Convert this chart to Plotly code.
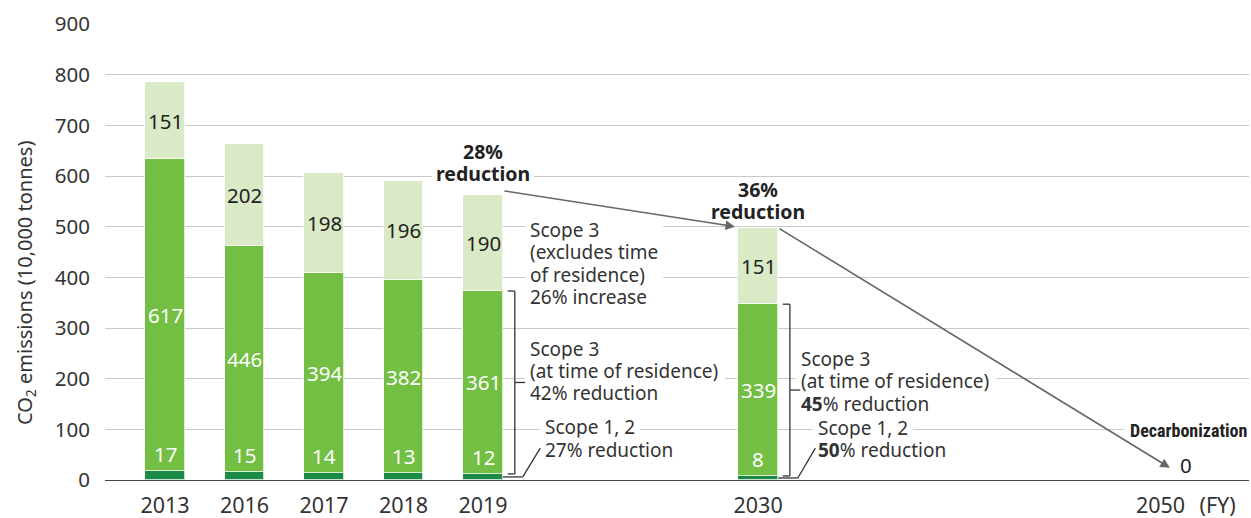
import plotly.graph_objects as go

# ---- data ----
years = ["2013", "2016", "2017", "2018", "2019", "2030", "2050"]
tick_labels = ["2013", "2016", "2017", "2018", "2019", "2030", "2050\u2002\u2009(FY)"]
scope12 = [17, 15, 14, 13, 12, 8, 0]
scope3_residence = [617, 446, 394, 382, 361, 339, 0]
scope3_other = [151, 202, 198, 196, 190, 151, 0]

# layout positions of categories on a numeric axis (gaps for future years)
xpos = [0, 1, 2, 3, 4, 7.46, 12.84]

FONT = "Noto Sans, Open Sans, DejaVu Sans, sans-serif"
TXT = "#333333"
DARK = "#1b8a47"
MID = "#72bf44"
LIGHT = "#dbeac6"
BW = 0.5
LS = 22.4  # line spacing px for text blocks

nb = 6  # bars drawn (2050 is zero)
fig = go.Figure()
for vals, col, name in [(scope12, DARK, "Scope 1, 2"),
                        (scope3_residence, MID, "Scope 3 (at time of residence)"),
                        (scope3_other, LIGHT, "Scope 3 (excludes time of residence)")]:
    fig.add_trace(go.Bar(x=xpos[:nb], y=vals[:nb], width=BW,
                         marker=dict(color=col, line=dict(color="rgba(255,255,255,0.75)", width=1)),
                         name=name, showlegend=False, hoverinfo="skip"))

seg_ann, txt_ann, arrow_ann = [], [], []
shapes = []
# segment labels
for i in range(nb):
    d, m, l = scope12[i], scope3_residence[i], scope3_other[i]
    seg_ann.append(dict(x=xpos[i], y=d + m + l / 2, text=str(l), showarrow=False,
                        font=dict(size=20.5, color="#222222", family=FONT), xanchor="center", yanchor="middle"))
    seg_ann.append(dict(x=xpos[i], y=d + m / 2, text=str(m), showarrow=False,
                        font=dict(size=20.5, color="white", family=FONT), xanchor="center", yanchor="middle"))
    seg_ann.append(dict(x=xpos[i], y=d, text=str(d), showarrow=False, yshift=1,
                        font=dict(size=20.5, color="white", family=FONT), xanchor="center", yanchor="bottom"))

totals = [scope12[i] + scope3_residence[i] + scope3_other[i] for i in range(len(years))]


def block(x, yc, lines, box_w, size=19, anchor="left", color=TXT, family=FONT, pad=4):
    n = len(lines)
    if anchor == "left":
        x0, x1 = -pad, box_w + pad
    elif anchor == "right":
        x0, x1 = -box_w - pad, pad
    else:
        x0, x1 = -box_w / 2 - pad, box_w / 2 + pad
    # white background box that interrupts the gridlines (between grid and bars)
    shapes.append(dict(type="rect", xref="x", yref="y", xsizemode="pixel", ysizemode="pixel",
                       xanchor=x, yanchor=yc, x0=x0, x1=x1, y0=-n * LS / 2 - 1, y1=n * LS / 2 + 1,
                       fillcolor="white", line=dict(width=0), layer="between"))
    for i, t in enumerate(lines):
        txt_ann.append(dict(x=x, y=yc, yshift=((n - 1) / 2 - i) * LS, text=t, showarrow=False,
                            align=anchor, valign="middle", height=LS - 1, borderpad=0,
                            font=dict(size=size, color=color, family=family),
                            xanchor=anchor, yanchor="middle"))


# 2050 zero label and decarbonization
txt_ann.append(dict(x=xpos[6], y=totals[6], yshift=15, text=str(totals[6]), showarrow=False,
                    font=dict(size=20.5, color="#222222", family=FONT), xanchor="center", yanchor="middle"))
block(13.62, 97, ["<b>Decarbonization</b>"], 120, size=18, anchor="right", color="#222222",
      family="Liberation Sans Narrow, Roboto Condensed, Arial Narrow, sans-serif")

# reduction labels
block(xpos[4], 627, ["<b>28%</b>", "<b>reduction</b>"], 94, size=19.5, anchor="center", color="#222222")
block(xpos[5], 552, ["<b>36%</b>", "<b>reduction</b>"], 94, size=19.5, anchor="center", color="#222222", pad=1)

block(4.58, 428, ["Scope 3", "(excludes time", "of residence)", "26% increase"], 130)
block(4.58, 216, ["Scope 3", "(at time of residence)", "42% reduction"], 192)
block(4.77, 105, ["Scope 1, 2"], 92)
block(4.77, 61, ["27% reduction"], 128)
block(7.99, 196, ["Scope 3", "(at time of residence)", "<b>45</b>% reduction"], 192)
block(8.2, 104, ["Scope 1, 2"], 92)
block(8.2, 60, ["<b>50</b>% reduction"], 128)

# arrows
arrow_ann.append(dict(x=xpos[5] - BW / 2 - 0.04, y=totals[5] + 2, ax=xpos[4] + BW / 2, ay=totals[4] + 8,
                      xref="x", yref="y", axref="x", ayref="y", text="", showarrow=True,
                      arrowhead=2, arrowsize=1.2, arrowwidth=1.6, arrowcolor="#666666"))
arrow_ann.append(dict(x=12.64, y=24, ax=xpos[5] + BW / 2, ay=totals[5],
                      xref="x", yref="y", axref="x", ayref="y", text="", showarrow=True,
                      arrowhead=2, arrowsize=1.2, arrowwidth=1.6, arrowcolor="#666666"))

# y-axis title
txt_ann.append(dict(xref="paper", yref="paper", x=-0.0699, y=0.432, text="CO<sub>2</sub> emissions (10,000 tonnes)",
                    textangle=-90, showarrow=False, font=dict(size=20, color=TXT, family=FONT),
                    xanchor="center", yanchor="middle"))

# brackets
def seg(x0, y0, x1, y1):
    shapes.append(dict(type="line", x0=x0, y0=y0, x1=x1, y1=y1, xref="x", yref="y",
                       line=dict(color="#333333", width=1.3)))

for i in (4, 5):
    xc = xpos[i]
    right = xc + BW / 2
    top = scope12[i] + scope3_residence[i]
    bot = scope12[i]
    vx = right + 0.15
    seg(vx - 0.09, top, vx, top)
    seg(vx, top, vx, bot)
    seg(vx - 0.09, bot, vx, bot)
    seg(vx, (top + bot) / 2, vx + 0.13, (top + bot) / 2)
    seg(right, bot / 2, vx + 0.1, bot / 2)
    seg(vx + 0.1, bot / 2, vx + 0.32, 63)

fig.update_layout(
    width=1251, height=518,
    margin=dict(l=105, r=2, t=24, b=38, autoexpand=False),
    paper_bgcolor="white", plot_bgcolor="white",
    barmode="stack", bargap=0,
    annotations=seg_ann + arrow_ann + txt_ann, shapes=shapes,
    font=dict(family=FONT, color=TXT),
    xaxis=dict(range=[-0.755, 13.635], tickvals=xpos, ticktext=tick_labels, showgrid=False,
               showline=True, linecolor="#444444", linewidth=1.3, zeroline=False, ticks="",
               tickfont=dict(size=21.5, color=TXT, family=FONT), ticklabelstandoff=6, automargin=False),
    yaxis=dict(range=[0, 900], dtick=100, showgrid=True, gridcolor="#c9c9c9", gridwidth=1.4,
               zeroline=False, ticks="", tickfont=dict(size=20.5, color=TXT, family=FONT),
               ticklabelstandoff=14, automargin=False),
)

fig.write_html("out.html", config={"displayModeBar": False},
               post_script="document.body.style.margin='0';document.body.style.overflow='hidden';")
